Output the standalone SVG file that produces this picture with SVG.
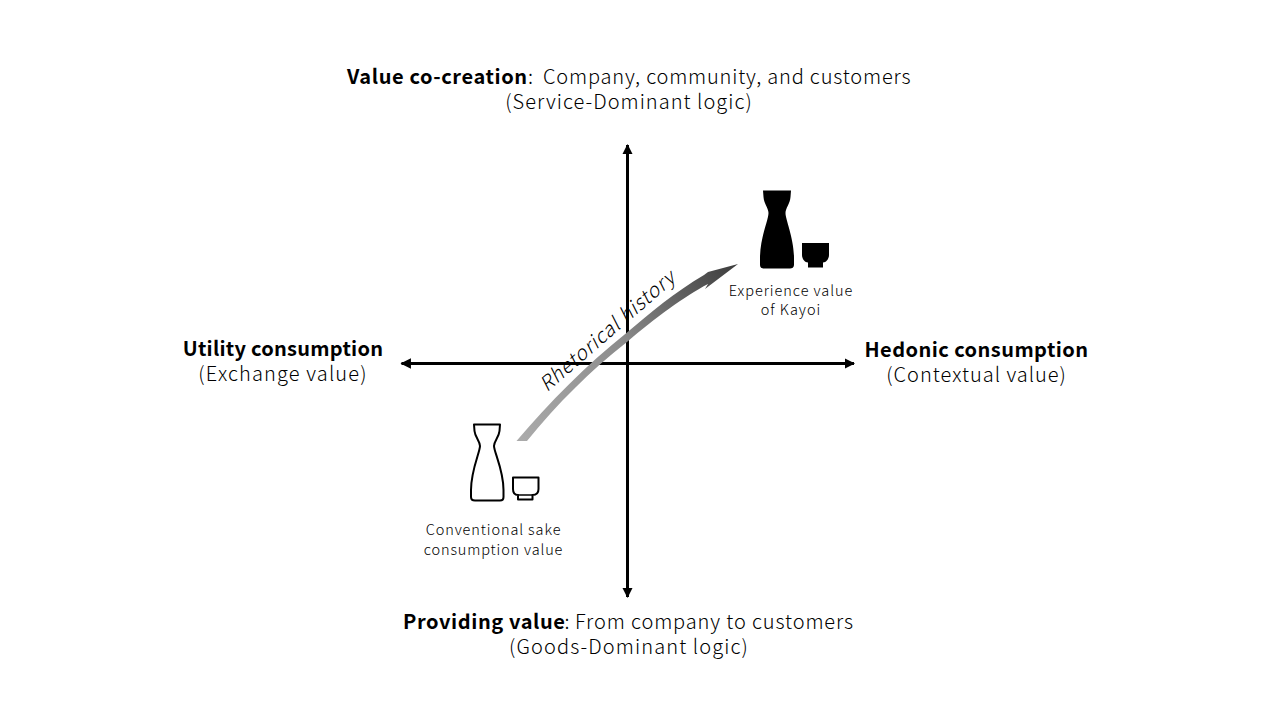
<svg xmlns="http://www.w3.org/2000/svg" width="1280" height="720" viewBox="0 0 1280 720">
<style>
text{font-family:"Noto Sans CJK JP","Noto Sans",sans-serif;fill:#000;text-anchor:middle;font-weight:300}
.m{font-size:20px}
.s{font-size:14.500px}
.b{font-weight:700}
.st{text-anchor:start}
.ax{stroke:#000;stroke-width:3;fill:none}
.o{fill:#fff;stroke:#000;stroke-width:2;stroke-linejoin:round}
.f{fill:#000}
</style>
<defs>
<marker id="ah" viewBox="0 0 10 10" refX="9" refY="5" markerWidth="3.500" markerHeight="3.500" orient="auto-start-reverse"><path d="M0 0L10 5L0 10z" fill="#000"/></marker>
<linearGradient id="g" gradientUnits="userSpaceOnUse" x1="517" y1="441" x2="738" y2="264"><stop offset="0" stop-color="#ababab"/><stop offset="0.5" stop-color="#8c8c8c"/><stop offset="1" stop-color="#3c3c3c"/></linearGradient>
</defs>
<g id="connectors">
<path class="ax" d="M401.500 363.500H854" marker-start="url(#ah)" marker-end="url(#ah)"/>
<path class="ax" d="M627.500 145V597" marker-start="url(#ah)" marker-end="url(#ah)"/>
<path id="rhetorical-arrow" fill="url(#g)" d="M516.500 441C550 402 585 366 627 332.500C650 313 675 292 704 275L708 272L738 264L705 289L708 284C685 296 655 318 627 342C590 371 558 403 527 441Z"/>
</g>
<g id="node-top">
<text class="m st" y="84" xml:space="preserve"><tspan class="b st" x="347" letter-spacing="0.62">Value co-creation</tspan><tspan class="st" x="528">: </tspan><tspan class="st" x="543" letter-spacing="0.82">Company, community, and customers</tspan></text>
<text class="m" x="629" y="109" letter-spacing="1.030">(Service-Dominant logic)</text>
</g>
<g id="node-bottom">
<text class="m st" y="629" xml:space="preserve"><tspan class="b st" x="403" letter-spacing="0.6">Providing value</tspan><tspan class="st" x="564.500">: </tspan><tspan class="st" x="575" letter-spacing="0.88">From company to customers</tspan></text>
<text class="m" x="629" y="654" letter-spacing="1.100">(Goods-Dominant logic)</text>
</g>
<g id="node-left">
<text class="m b" x="283" y="356" letter-spacing="0.26">Utility consumption</text>
<text class="m" x="283" y="381" letter-spacing="1.150">(Exchange value)</text>
</g>
<g id="node-right">
<text class="m b" x="976.500" y="357" letter-spacing="0.45">Hedonic consumption</text>
<text class="m" x="976.500" y="382" letter-spacing="1">(Contextual value)</text>
</g>
<g id="node-conventional">
<path class="o" d="M474 424.500H500L499.500 431C499 437 494 441 494 446C494 452 503.500 470 503.500 490V497C503.500 499.500 502 500.500 500 500.500H475C472.500 500.500 471 499.500 471 497V490C471 470 480 452 480 446C480 441 475 437 474.500 431Z"/>
<path class="o" d="M513 477.500H538.500V489C538.500 493 536 495 532.500 495V499.500H518V495C515 495 513 493 513 489Z"/>
<path d="M518 495H532.500" stroke="#000" stroke-width="1.500" fill="none"/>
<text class="s" x="493.500" y="535" letter-spacing="0.9">Conventional sake</text>
<text class="s" x="493.500" y="555" letter-spacing="0.85">consumption value</text>
</g>
<g id="node-kayoi">
<path class="f" d="M763 190.500H791L790.500 197C790 204 785.500 208 785.500 213C785.500 220 794 238 794 258V265C794 267.500 792 268.500 790 268.500H764C761.500 268.500 760 267.500 760 265V258C760 238 768.500 220 768.500 213C768.500 208 764 204 763.500 197Z"/>
<path class="f" d="M802 243H829V255C829 259 826 262.500 823 262.500V267.500H808V262.500C805 262.500 802 259 802 255Z"/>
<text class="s" x="791" y="296" letter-spacing="0.95">Experience value</text>
<text class="s" x="791" y="315" letter-spacing="1">of Kayoi</text>
</g>
<text id="rhetorical-label" font-size="20" letter-spacing="0.8" style="font-style:italic" transform="translate(612 336) rotate(-41)">Rhetorical history</text>
</svg>
